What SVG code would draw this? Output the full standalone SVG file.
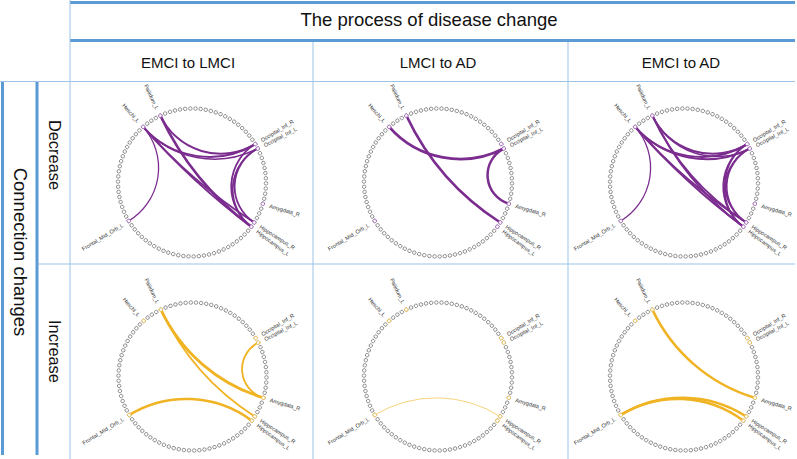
<svg xmlns="http://www.w3.org/2000/svg" xmlns:xlink="http://www.w3.org/1999/xlink" width="797" height="459" viewBox="0 0 797 459">
<style>
.tl{stroke:#9dc3e6;stroke-width:1;fill:none}
.tk{stroke:#5b9bd5;stroke-width:3;fill:none}
.hd{font-family:"Liberation Sans",Arial,sans-serif;fill:#111}
.nd{fill:#fff;stroke:#555;stroke-width:0.6}
.hp{fill:#fff;stroke:#a869c2;stroke-width:0.8}
.hy{fill:#fff;stroke:#f2c14e;stroke-width:0.8}
.e{fill:none;stroke-linecap:round}
.p{stroke:#7b2c8f}
.y{stroke:#f0b323}
.yl{stroke:#f8d47c}
.lb{font-family:"Liberation Sans",Arial,sans-serif;font-size:5.5px;fill:#333;dominant-baseline:central}
.ls{text-anchor:end}
</style>
<defs>
<circle id="n" cx="74" cy="0" r="1.75"/>
<g id="ring" class="nd">
<use href="#n" transform="rotate(0.7)"/><use href="#n" transform="rotate(4.7)"/><use href="#n" transform="rotate(8.7)"/><use href="#n" transform="rotate(12.7)"/><use href="#n" transform="rotate(16.7)"/><use href="#n" transform="rotate(20.7)"/><use href="#n" transform="rotate(24.7)"/><use href="#n" transform="rotate(28.7)"/><use href="#n" transform="rotate(32.7)"/><use href="#n" transform="rotate(36.7)"/>
<use href="#n" transform="rotate(40.7)"/><use href="#n" transform="rotate(44.7)"/><use href="#n" transform="rotate(48.7)"/><use href="#n" transform="rotate(52.7)"/><use href="#n" transform="rotate(56.7)"/><use href="#n" transform="rotate(60.7)"/><use href="#n" transform="rotate(64.7)"/><use href="#n" transform="rotate(68.7)"/><use href="#n" transform="rotate(72.7)"/><use href="#n" transform="rotate(76.7)"/>
<use href="#n" transform="rotate(80.7)"/><use href="#n" transform="rotate(84.7)"/><use href="#n" transform="rotate(88.7)"/><use href="#n" transform="rotate(92.7)"/><use href="#n" transform="rotate(96.7)"/><use href="#n" transform="rotate(100.7)"/><use href="#n" transform="rotate(104.7)"/><use href="#n" transform="rotate(108.7)"/><use href="#n" transform="rotate(112.7)"/><use href="#n" transform="rotate(116.7)"/>
<use href="#n" transform="rotate(120.7)"/><use href="#n" transform="rotate(124.7)"/><use href="#n" transform="rotate(128.7)"/><use href="#n" transform="rotate(132.7)"/><use href="#n" transform="rotate(136.7)"/><use href="#n" transform="rotate(140.7)"/><use href="#n" transform="rotate(144.7)"/><use href="#n" transform="rotate(148.7)"/><use href="#n" transform="rotate(152.7)"/><use href="#n" transform="rotate(156.7)"/>
<use href="#n" transform="rotate(160.7)"/><use href="#n" transform="rotate(164.7)"/><use href="#n" transform="rotate(168.7)"/><use href="#n" transform="rotate(172.7)"/><use href="#n" transform="rotate(176.7)"/><use href="#n" transform="rotate(180.7)"/><use href="#n" transform="rotate(184.7)"/><use href="#n" transform="rotate(188.7)"/><use href="#n" transform="rotate(192.7)"/><use href="#n" transform="rotate(196.7)"/>
<use href="#n" transform="rotate(200.7)"/><use href="#n" transform="rotate(204.7)"/><use href="#n" transform="rotate(208.7)"/><use href="#n" transform="rotate(212.7)"/><use href="#n" transform="rotate(216.7)"/><use href="#n" transform="rotate(220.7)"/><use href="#n" transform="rotate(224.7)"/><use href="#n" transform="rotate(228.7)"/><use href="#n" transform="rotate(232.7)"/><use href="#n" transform="rotate(236.7)"/>
<use href="#n" transform="rotate(240.7)"/><use href="#n" transform="rotate(244.7)"/><use href="#n" transform="rotate(248.7)"/><use href="#n" transform="rotate(252.7)"/><use href="#n" transform="rotate(256.7)"/><use href="#n" transform="rotate(260.7)"/><use href="#n" transform="rotate(264.7)"/><use href="#n" transform="rotate(268.7)"/><use href="#n" transform="rotate(272.7)"/><use href="#n" transform="rotate(276.7)"/>
<use href="#n" transform="rotate(280.7)"/><use href="#n" transform="rotate(284.7)"/><use href="#n" transform="rotate(288.7)"/><use href="#n" transform="rotate(292.7)"/><use href="#n" transform="rotate(296.7)"/><use href="#n" transform="rotate(300.7)"/><use href="#n" transform="rotate(304.7)"/><use href="#n" transform="rotate(308.7)"/><use href="#n" transform="rotate(312.7)"/><use href="#n" transform="rotate(316.7)"/>
<use href="#n" transform="rotate(320.7)"/><use href="#n" transform="rotate(324.7)"/><use href="#n" transform="rotate(328.7)"/><use href="#n" transform="rotate(332.7)"/><use href="#n" transform="rotate(336.7)"/><use href="#n" transform="rotate(340.7)"/><use href="#n" transform="rotate(344.7)"/><use href="#n" transform="rotate(348.7)"/><use href="#n" transform="rotate(352.7)"/><use href="#n" transform="rotate(356.7)"/>
</g>
<g id="hl">
<use href="#n" transform="rotate(148.7)"/><use href="#n" transform="rotate(228.7)"/><use href="#n" transform="rotate(244.7)"/><use href="#n" transform="rotate(328.7)"/><use href="#n" transform="rotate(332.7)"/><use href="#n" transform="rotate(16.7)"/><use href="#n" transform="rotate(32.7)"/><use href="#n" transform="rotate(36.7)"/>
</g>
<g id="labels">
<text class="lb ls" transform="rotate(48.7) translate(-81 0)">Heschl_L</text>
<text class="lb ls" transform="rotate(64.7) translate(-81 0)">Pallidum_L</text>
<text class="lb ls" transform="rotate(-31.3) translate(-81 0)">Frontal_Mid_Orb_L</text>
<text class="lb" transform="rotate(-31.3) translate(81 0)">Occipital_Inf_R</text>
<text class="lb" transform="rotate(-27.3) translate(81 0)">Occipital_Inf_L</text>
<text class="lb" transform="rotate(16.7) translate(81 0)">Amygdala_R</text>
<text class="lb" transform="rotate(32.7) translate(81 0)">Hippocampus_R</text>
<text class="lb" transform="rotate(36.7) translate(81 0)">Hippocampus_L</text>
</g>
<path id="FH" d="M-63.23,38.44 A62.09,62.09 0 0 0 -48.84,-55.60"/>
<path id="HOR" d="M-48.84,-55.60 A88.19,88.19 0 0 0 63.23,-38.44"/>
<path id="HOL" d="M-48.84,-55.60 A94.71,94.71 0 0 0 65.76,-33.94"/>
<path id="POR" d="M-31.63,-66.90 A66.63,66.63 0 0 0 63.23,-38.44"/>
<path id="POL" d="M-31.63,-66.90 A71.46,71.46 0 0 0 65.76,-33.94"/>
<path id="HHR" d="M-48.84,-55.60 A526.5,526.5 0 0 0 62.27,39.98"/>
<path id="HHL" d="M-48.84,-55.60 A704.1,704.1 0 0 0 59.33,44.22"/>
<path id="PHR" d="M-31.63,-66.90 A258.1,258.1 0 0 0 62.27,39.98"/>
<path id="PHL" d="M-31.63,-66.90 A296.8,296.8 0 0 0 59.33,44.22"/>
<path id="PA" d="M-31.63,-66.90 A166.2,166.2 0 0 0 70.88,21.27"/>
<path id="ORHL" d="M63.23,-38.44 A49.91,49.91 0 0 0 59.33,44.22"/>
<path id="ORHR" d="M63.23,-38.44 A46.24,46.24 0 0 0 62.27,39.98"/>
<path id="OLHR" d="M65.76,-33.94 A42.72,42.72 0 0 0 62.27,39.98"/>
<path id="OLHL" d="M65.76,-33.94 A46.24,46.24 0 0 0 59.33,44.22"/>
<path id="OLA" d="M65.76,-33.94 A29.90,29.90 0 0 0 70.88,21.27"/>
<path id="HRF" d="M62.27,39.98 A118.4,118.4 0 0 0 -63.23,38.44"/>
<path id="HLF" d="M59.33,44.22 A109.7,109.7 0 0 0 -63.23,38.44"/>
</defs>
<rect width="797" height="459" fill="#fff"/>
<g id="table">
<line class="tk" x1="70" y1="2.5" x2="795" y2="2.5"/>
<line class="tk" x1="70" y1="40.5" x2="795" y2="40.5"/>
<line class="tl" x1="70" y1="0" x2="70" y2="459"/>
<line class="tl" x1="313" y1="42" x2="313" y2="459"/>
<line class="tl" x1="568" y1="42" x2="568" y2="459"/>
<line class="tl" x1="0" y1="81.5" x2="795" y2="81.5"/>
<line class="tl" x1="37" y1="264" x2="795" y2="264"/>
<line class="tk" x1="2.5" y1="82" x2="2.5" y2="455"/>
<line class="tk" x1="37" y1="82" x2="37" y2="455"/>
<text class="hd" x="429" y="26" font-size="18.5" text-anchor="middle">The process of disease change</text>
<text class="hd" x="188" y="67.5" font-size="15" text-anchor="middle">EMCI to LMCI</text>
<text class="hd" x="438" y="67.5" font-size="15" text-anchor="middle">LMCI to AD</text>
<text class="hd" x="681" y="67.5" font-size="15" text-anchor="middle">EMCI to AD</text>
<text class="hd" font-size="18.5" text-anchor="middle" transform="translate(13.5 252) rotate(90)">Connection changes</text>
<text class="hd" font-size="16.4" text-anchor="middle" transform="translate(48.5 155) rotate(90)">Decrease</text>
<text class="hd" font-size="16.4" text-anchor="middle" transform="translate(48.5 351.5) rotate(90)">Increase</text>
</g>
<g id="cell-dec-emci-lmci" transform="translate(192 182.5)">
<use href="#ring"/>
<g class="e p">
<use href="#FH" stroke-width="1.3"/>
<use href="#HOR" stroke-width="2"/>
<use href="#HOL" stroke-width="1.5"/>
<use href="#POR" stroke-width="2"/>
<use href="#HHR" stroke-width="1.8"/>
<use href="#HHL" stroke-width="1.8"/>
<use href="#PHL" stroke-width="2.5"/>
<use href="#ORHL" stroke-width="1.8"/>
<use href="#OLHR" stroke-width="1.8"/>
<use href="#OLHL" stroke-width="1.8"/>
</g>
<use href="#hl" class="hp"/>
<use href="#labels"/>
</g>
<g id="cell-dec-lmci-ad" transform="translate(438 182.5)">
<use href="#ring"/>
<g class="e p">
<use href="#HOL" stroke-width="2.8"/>
<use href="#PHR" stroke-width="2.5"/>
<use href="#OLA" stroke-width="2.5"/>
</g>
<use href="#hl" class="hp"/>
<use href="#labels"/>
</g>
<g id="cell-dec-emci-ad" transform="translate(684 182.5)">
<use href="#ring"/>
<g class="e p">
<use href="#FH" stroke-width="1.3"/>
<use href="#HOR" stroke-width="2"/>
<use href="#HOL" stroke-width="2"/>
<use href="#POR" stroke-width="2"/>
<use href="#POL" stroke-width="1.5"/>
<use href="#HHR" stroke-width="2"/>
<use href="#HHL" stroke-width="2"/>
<use href="#PHR" stroke-width="2"/>
<use href="#PHL" stroke-width="2"/>
<use href="#ORHL" stroke-width="1.8"/>
<use href="#ORHR" stroke-width="1.8"/>
<use href="#OLHR" stroke-width="1.8"/>
<use href="#OLHL" stroke-width="1.8"/>
</g>
<use href="#hl" class="hp"/>
<use href="#labels"/>
</g>
<g id="cell-inc-emci-lmci" transform="translate(192.5 376.5)">
<use href="#ring"/>
<g class="e y">
<use href="#PA" stroke-width="2.8"/>
<use href="#PHR" stroke-width="1.8"/>
<use href="#OLA" stroke-width="1.8"/>
<use href="#HLF" stroke-width="2.5"/>
</g>
<use href="#hl" class="hy"/>
<use href="#labels"/>
</g>
<g id="cell-inc-lmci-ad" transform="translate(438 376.5)">
<use href="#ring"/>
<g class="e yl">
<use href="#HRF" stroke-width="1"/>
</g>
<use href="#hl" class="hy"/>
<use href="#labels"/>
</g>
<g id="cell-inc-emci-ad" transform="translate(684 376.5)">
<use href="#ring"/>
<g class="e y">
<use href="#PA" stroke-width="2.5"/>
<use href="#HRF" stroke-width="2.5"/>
<use href="#HLF" stroke-width="2.5"/>
</g>
<use href="#hl" class="hy"/>
<use href="#labels"/>
</g>
</svg>
